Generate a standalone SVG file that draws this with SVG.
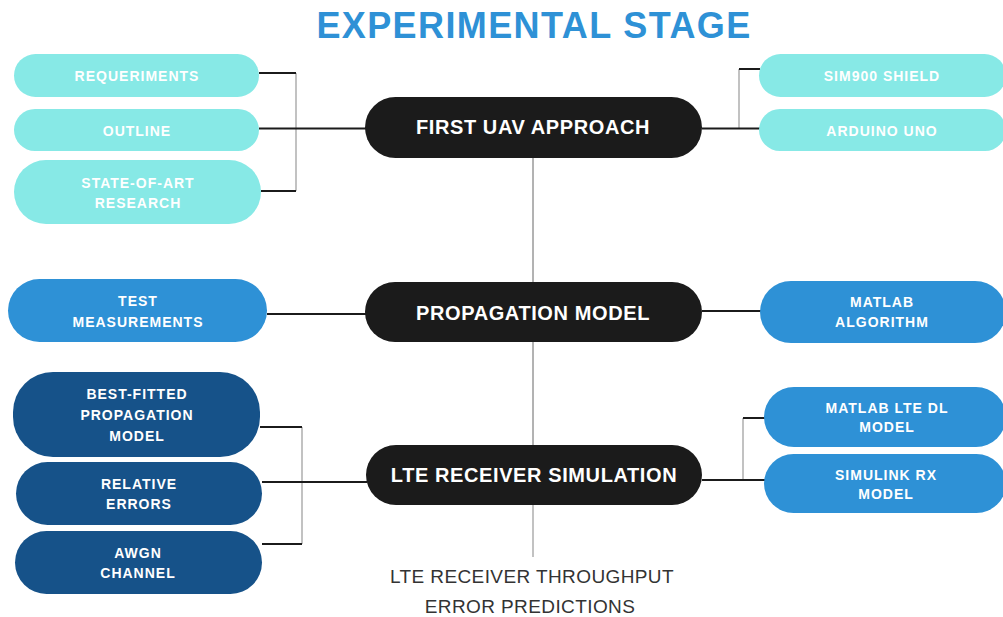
<svg xmlns="http://www.w3.org/2000/svg" width="1003" height="617" viewBox="0 0 1003 617">
<style>
.cy{fill:#87E9E6}
.mb{fill:#2E91D6}
.db{fill:#165289}
.ct{fill:#1B1B1B}
.t{font-family:"Liberation Sans",Arial,sans-serif;font-weight:bold;font-size:14px;letter-spacing:1px;fill:#fff;text-anchor:middle}
.ht{font-family:"Liberation Sans",Arial,sans-serif;font-weight:bold;font-size:20px;letter-spacing:0.6px;fill:#fff;text-anchor:middle}
.k{stroke:#1B1B1B;stroke-width:2;fill:none}
.g{stroke:#999;stroke-width:1.2;fill:none}
.v{stroke:#666;stroke-width:1;fill:none}
</style>
<rect width="1003" height="617" fill="#fff"/>
<text x="534" y="38" font-family="'Liberation Sans',Arial,sans-serif" font-weight="bold" font-size="36" letter-spacing="1.4" fill="#2E91D6" text-anchor="middle">EXPERIMENTAL STAGE</text>

<g id="connectors">
<line class="v" x1="533" y1="158" x2="533" y2="282"/>
<line class="v" x1="533" y1="342" x2="533" y2="445"/>
<line class="g" x1="533" y1="505" x2="533" y2="557"/>
<line class="g" x1="296" y1="73" x2="296" y2="191"/>
<polyline class="k" points="259,73 296,73"/>
<line class="k" x1="259" y1="128.5" x2="366" y2="128.5"/>
<polyline class="k" points="261,191 296,191"/>
<line class="g" x1="739" y1="69" x2="739" y2="128.5"/>
<line class="k" x1="739" y1="69" x2="760" y2="69"/>
<line class="k" x1="702" y1="128.5" x2="760" y2="128.5"/>
<line class="k" x1="267" y1="314" x2="366" y2="314"/>
<line class="k" x1="702" y1="311" x2="761" y2="311"/>
<line class="g" x1="302" y1="427" x2="302" y2="544"/>
<line class="k" x1="260" y1="427" x2="302" y2="427"/>
<line class="k" x1="262" y1="482" x2="367" y2="482"/>
<line class="k" x1="262" y1="544" x2="302" y2="544"/>
<line class="g" x1="743" y1="418" x2="743" y2="480"/>
<line class="k" x1="743" y1="418" x2="765" y2="418"/>
<line class="k" x1="702" y1="480" x2="765" y2="480"/>
</g>

<g id="first-uav">
<rect class="ct" x="365" y="97" width="337" height="61" rx="30.5"/>
<text class="ht" x="533" y="134">FIRST UAV APPROACH</text>
</g>
<g id="propagation">
<rect class="ct" x="365" y="282" width="337" height="60" rx="30"/>
<text class="ht" x="533" y="320">PROPAGATION MODEL</text>
</g>
<g id="lte-sim">
<rect class="ct" x="366" y="445" width="336" height="60" rx="30"/>
<text class="ht" x="534" y="482">LTE RECEIVER SIMULATION</text>
</g>

<g id="requeriments">
<rect class="cy" x="14" y="54" width="245" height="43" rx="21.5"/>
<text class="t" x="137" y="81">REQUERIMENTS</text>
</g>
<g id="outline">
<rect class="cy" x="14" y="109" width="245" height="42" rx="21"/>
<text class="t" x="137" y="136">OUTLINE</text>
</g>
<g id="state-of-art">
<rect class="cy" x="14" y="160" width="247" height="64" rx="32"/>
<text class="t" x="138" y="188">STATE-OF-ART</text>
<text class="t" x="138" y="208">RESEARCH</text>
</g>
<g id="sim900">
<rect class="cy" x="759" y="54" width="247" height="43" rx="21.5"/>
<text class="t" x="882" y="81">SIM900 SHIELD</text>
</g>
<g id="arduino">
<rect class="cy" x="759" y="109" width="247" height="42" rx="21"/>
<text class="t" x="882" y="136">ARDUINO UNO</text>
</g>

<g id="test-measurements">
<rect class="mb" x="8" y="279" width="259" height="63" rx="31.5"/>
<text class="t" x="138" y="306">TEST</text>
<text class="t" x="138" y="327">MEASUREMENTS</text>
</g>
<g id="matlab-algorithm">
<rect class="mb" x="760" y="281" width="246" height="62" rx="31"/>
<text class="t" x="882" y="307">MATLAB</text>
<text class="t" x="882" y="327">ALGORITHM</text>
</g>

<g id="best-fitted">
<rect class="db" x="13" y="372" width="247" height="85" rx="40"/>
<text class="t" x="137" y="399">BEST-FITTED</text>
<text class="t" x="137" y="420">PROPAGATION</text>
<text class="t" x="137" y="441">MODEL</text>
</g>
<g id="relative-errors">
<rect class="db" x="16" y="462" width="246" height="63" rx="31.5"/>
<text class="t" x="139" y="489">RELATIVE</text>
<text class="t" x="139" y="509">ERRORS</text>
</g>
<g id="awgn">
<rect class="db" x="15" y="531" width="247" height="63" rx="31.5"/>
<text class="t" x="138" y="558">AWGN</text>
<text class="t" x="138" y="578">CHANNEL</text>
</g>

<g id="matlab-lte-dl">
<rect class="mb" x="764" y="387" width="242" height="60" rx="30"/>
<text class="t" x="887" y="413">MATLAB LTE DL</text>
<text class="t" x="887" y="432">MODEL</text>
</g>
<g id="simulink-rx">
<rect class="mb" x="764" y="454" width="242" height="59" rx="29.5"/>
<text class="t" x="886" y="480">SIMULINK RX</text>
<text class="t" x="886" y="499">MODEL</text>
</g>

<g id="output">
<text x="532" y="583" font-family="'Liberation Sans',Arial,sans-serif" font-size="19" letter-spacing="0.4" fill="#333" text-anchor="middle">LTE RECEIVER THROUGHPUT</text>
<text x="530" y="613" font-family="'Liberation Sans',Arial,sans-serif" font-size="19" letter-spacing="0.4" fill="#333" text-anchor="middle">ERROR PREDICTIONS</text>
</g>
</svg>
